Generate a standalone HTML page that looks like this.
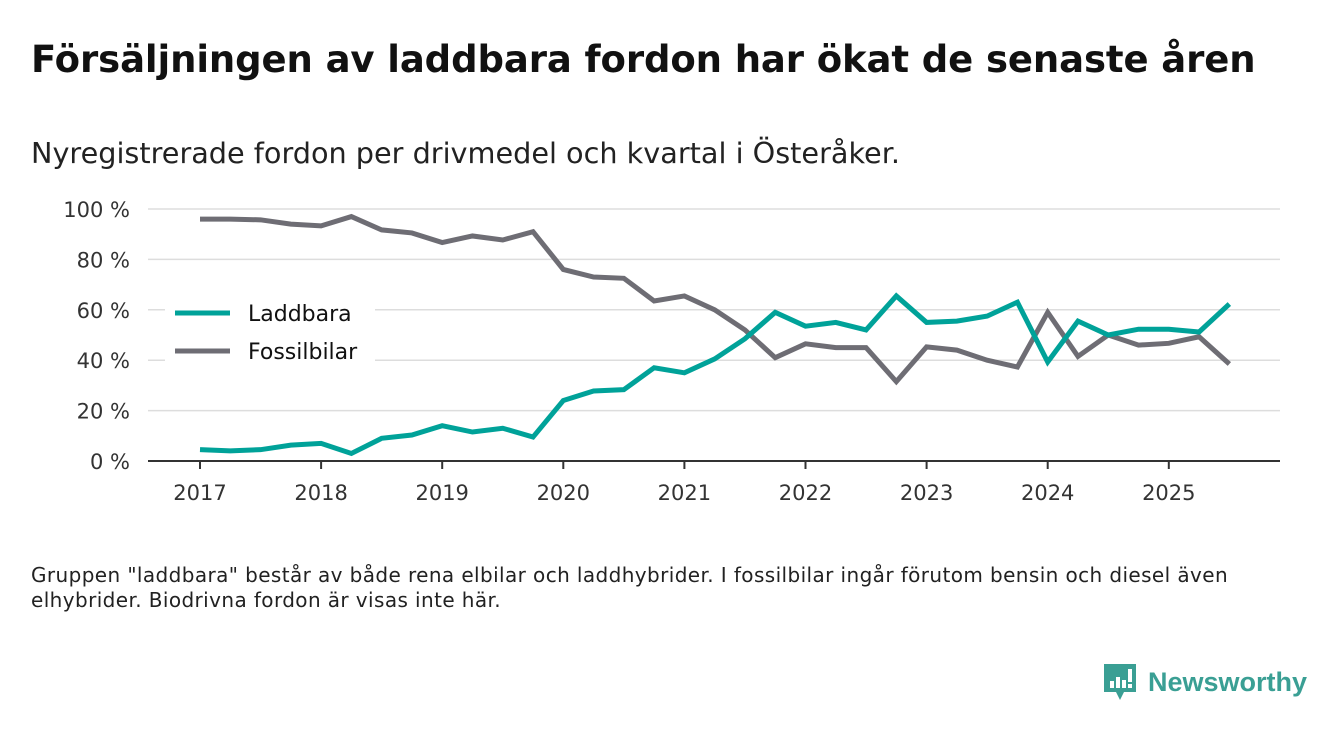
<!DOCTYPE html>
<html><head><meta charset="utf-8"><style>
body{margin:0;width:1340px;height:733px;background:#fff;font-family:"DejaVu Sans","Liberation Sans",sans-serif;color:#111;overflow:hidden;position:relative}
h1{position:absolute;left:31px;top:38px;margin:0;font-size:37px;font-weight:bold;letter-spacing:-0.1px}
.sub{position:absolute;left:31px;top:136px;font-size:28.7px;color:#222;letter-spacing:0px}
.note{position:absolute;left:31px;top:563px;font-size:20px;line-height:25px;color:#222;width:1260px;letter-spacing:0.4px}
.logo{position:absolute;left:1102px;top:662px;display:flex;align-items:center}
.logo span{font-size:27px;font-weight:bold;color:#3a9f94;margin-left:10px;font-family:"Liberation Sans",sans-serif}
</style></head><body>
<h1>Försäljningen av laddbara fordon har ökat de senaste åren</h1>
<div class="sub">Nyregistrerade fordon per drivmedel och kvartal i Österåker.</div>
<svg id="chart" width="1340" height="733" style="position:absolute;left:0;top:0"></svg>
<div class="note">Gruppen "laddbara" består av både rena elbilar och laddhybrider. I fossilbilar ingår förutom bensin och diesel även<br>elhybrider. Biodrivna fordon är visas inte här.</div>
<div class="logo">
<svg width="36" height="40" viewBox="0 0 36 40"><path d="M2 2h32v28H22l-4 8-4-8H2z" fill="#3a9f94"/><rect x="8" y="19" width="4" height="7" fill="#fff"/><rect x="14" y="15" width="4" height="11" fill="#fff"/><rect x="20" y="18" width="4" height="8" fill="#fff"/><rect x="26" y="7" width="4" height="13" fill="#fff"/><rect x="26" y="22" width="4" height="4" fill="#fff"/></svg>
<span>Newsworthy</span></div>
<script>
const yTicks=[0,20,40,60,80,100];
const xYears=[2017,2018,2019,2020,2021,2022,2023,2024,2025];
const laddbara=[4.5,4,4.5,6.3,7,3,9,10.3,14,11.5,13,9.5,24,27.8,28.3,37,35,40.5,48.5,59,53.5,55,52,65.5,55,55.5,57.5,63,39.3,55.5,50,52.3,52.3,51.2,62.3];
const fossil=[96,96,95.7,94,93.3,97,91.7,90.5,86.7,89.3,87.7,91,76,73,72.5,63.5,65.5,60,52,41,46.5,45,45,31.5,45.3,44,40,37.3,59,41.5,50,46,46.7,49.3,38.5];
const svg=document.getElementById('chart');const NS='http://www.w3.org/2000/svg';
const y=v=>461-v*2.52;const x=t=>200+(t-2017)*121.1;
function el(tag,a){const e=document.createElementNS(NS,tag);for(const k in a)e.setAttribute(k,a[k]);svg.appendChild(e);return e;}
yTicks.forEach(v=>{
 const g=el('line',{x1:148,x2:1280,y1:y(v),y2:y(v),stroke:'#ddd','stroke-width':1.5});
 
 
 const t=el('text',{x:130,y:y(v)+8,'text-anchor':'end','font-size':21,fill:'#333','font-family':'DejaVu Sans,Liberation Sans,sans-serif'});t.textContent=v+' %';
 
 
});
const ax=el('line',{x1:148,x2:1280,y1:461,y2:461,stroke:'#333','stroke-width':2});


xYears.forEach(yr=>{
 const tk=el('line',{x1:x(yr),x2:x(yr),y1:461,y2:469,stroke:'#333','stroke-width':2});
 
 
 const t=el('text',{x:x(yr),y:500,'text-anchor':'middle','font-size':21,fill:'#333','font-family':'DejaVu Sans,Liberation Sans,sans-serif'});t.textContent=yr;
 
 
});
const lb=el('rect',{x:165,y:290,width:210,height:85,fill:'#fff'});


function line(arr,col,name){
 const p=el('polyline',{points:arr.map((v,i)=>x(2017+i/4)+','+y(v)).join(' '),fill:'none',stroke:col,'stroke-width':5,'stroke-linejoin':'miter'});
 
 
}
line(fossil,'#6e6d74','series-fossilbilar');
line(laddbara,'#00a299','series-laddbara');
[['Laddbara','#00a299',313],['Fossilbilar','#6e6d74',351]].forEach(([n,c,yy])=>{
 const l=el('line',{x1:175,x2:230,y1:yy,y2:yy,stroke:c,'stroke-width':5});
 
 
 const t=el('text',{x:248,y:yy+8,'font-size':22,fill:'#111','font-family':'DejaVu Sans,Liberation Sans,sans-serif'});t.textContent=n;
 
 
});
</script>
</body></html>
